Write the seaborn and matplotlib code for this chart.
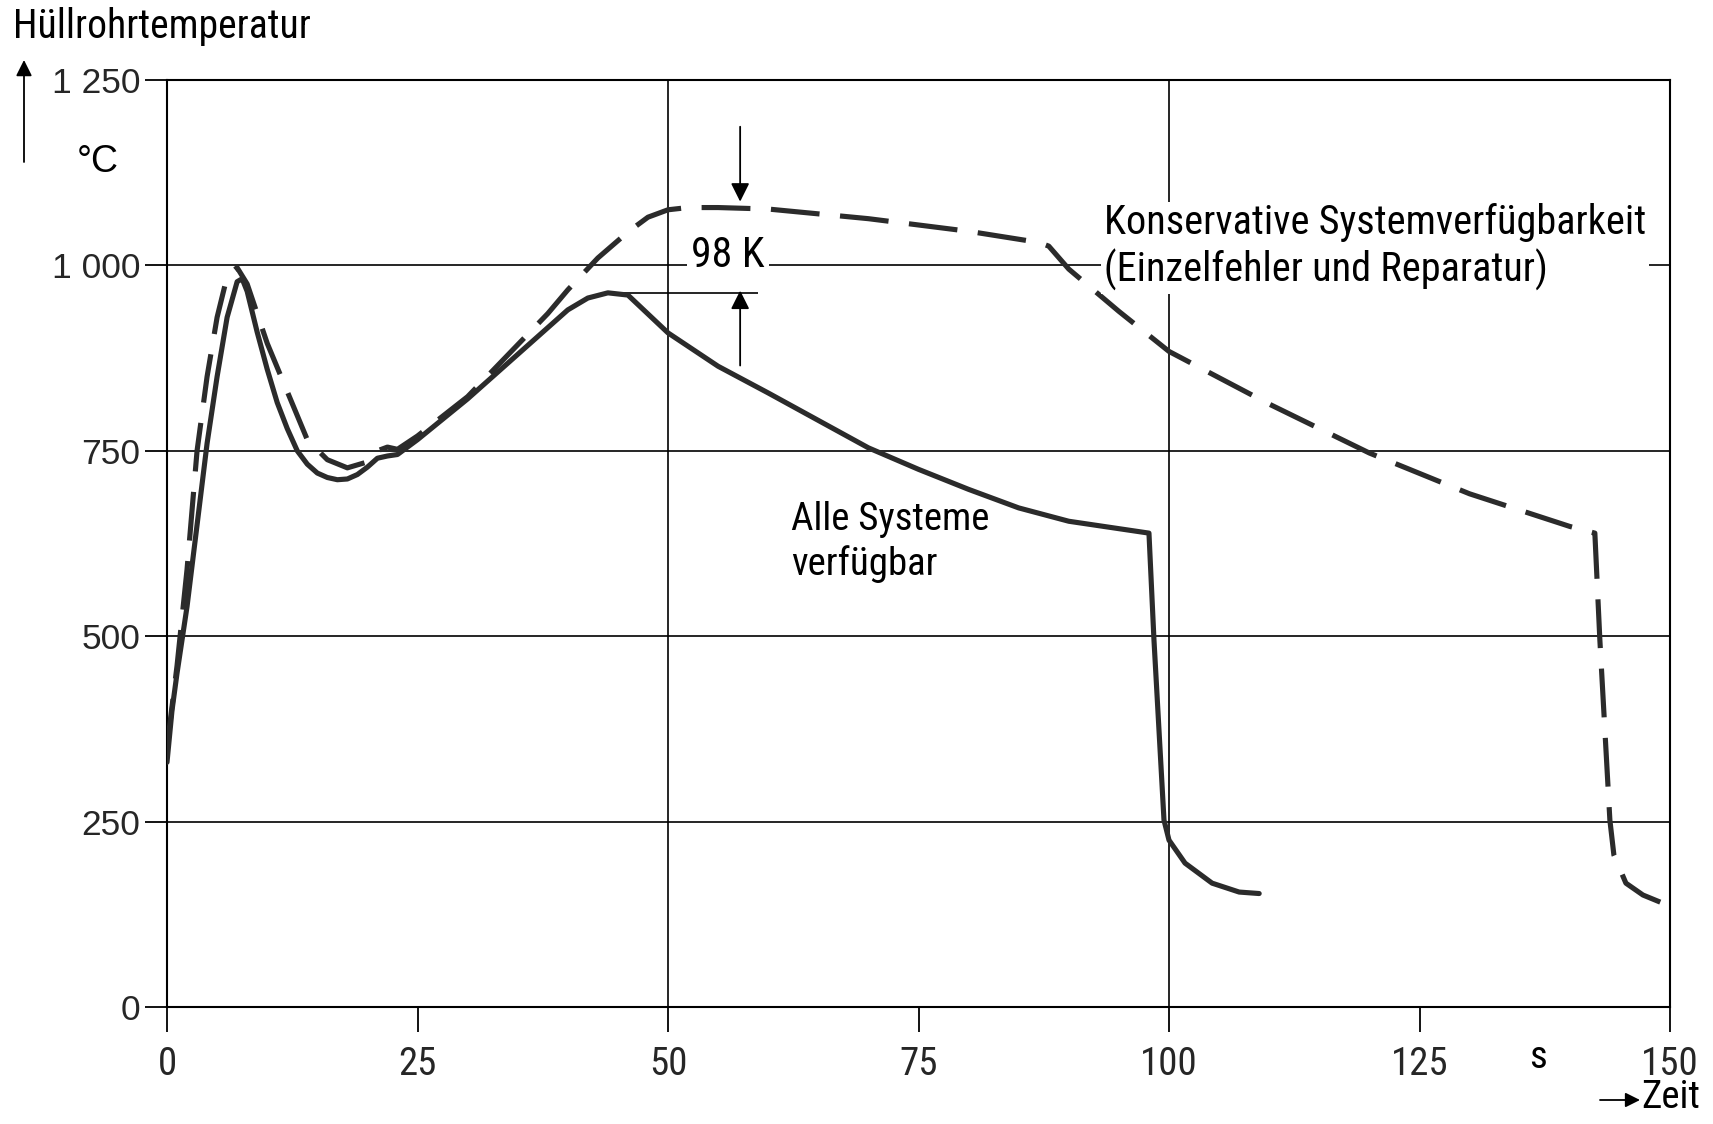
import matplotlib
matplotlib.use("Agg")
import matplotlib.pyplot as plt
import matplotlib.font_manager as fm
import seaborn as sns
import pandas as pd

# ---------------- data ----------------
t_solid = [0, 0.5, 1, 2, 3, 4, 5, 6, 7, 7.5, 8, 9, 10, 11, 12, 13, 14, 15, 16, 17, 18,
           19, 20, 21, 22, 23, 25, 30, 35, 40, 42, 44, 46, 50, 55, 60, 65, 70, 75, 80,
           85, 90, 98, 98.5, 99.5, 100, 101.6, 104.3, 107, 109]
T_solid = [330, 400, 450, 540, 650, 760, 850, 930, 978, 982, 965, 910, 860, 815, 780, 750,
           732, 720, 714, 711, 712, 718, 728, 740, 743, 745, 765, 820, 880, 940, 956, 963,
           960, 909, 864, 828, 791, 754, 725, 698, 673, 655, 639, 495, 252, 225, 194, 167,
           155, 153]

t_dash = [0, 1, 2, 3, 4, 5, 6, 7, 8, 9, 10, 12, 14, 16, 18, 20, 21, 22, 23, 25, 30, 35,
          38, 40, 43, 46, 48, 50, 52, 55, 60, 70, 80, 87, 88, 90, 95, 100, 110, 120, 130,
          140, 142.5, 143, 144, 144.4, 145.6, 147.3, 150]
T_dash = [350, 460, 590, 750, 850, 930, 985, 997, 975, 935, 895, 830, 765, 738, 727, 735,
          750, 755, 752, 770, 823, 893, 935, 967, 1010, 1045, 1065, 1075, 1078, 1078, 1076,
          1063, 1046, 1031, 1026, 995, 938, 884, 813, 747, 692, 648, 639, 495, 252, 205,
          167, 151, 136]

x_ticks = [0, 25, 50, 75, 100, 125, 150]
x_labels = ["0", "25", "50", "75", "100", "125", "150"]
y_ticks = [0, 250, 500, 750, 1000, 1250]
y_labels = ["0", "250", "500", "750", "1 000", "1 250"]

label_solid = "Alle Systeme\nverfügbar"
label_dash = "Konservative Systemverfügbarkeit\n(Einzelfehler und Reparatur)"
delta_label = "98 K"
peak_solid = 963
peak_dash = 1078

# ---------------- fonts ----------------
sns.set_theme(style="white")
avail = {f.name for f in fm.fontManager.ttflist}
narrow = "DejaVu Sans"
for cand in ["Liberation Sans Narrow", "Roboto Condensed", "DejaVu Sans Condensed"]:
    if cand in avail:
        narrow = cand
        break
plt.rcParams["font.family"] = [narrow, "DejaVu Sans"]
normal = ["Liberation Sans", "DejaVu Sans"]

ink = "#2b2b2b"

fig = plt.figure(figsize=(17.13, 11.24), dpi=100)
ax = fig.add_axes([167 / 1713, 1 - 1007 / 1124, (1670 - 167) / 1713, (1007 - 80) / 1124])

df_s = pd.DataFrame({"t": t_solid, "T": T_solid})
df_d = pd.DataFrame({"t": t_dash, "T": T_dash})

# grid lines (only at labelled major positions)
for yv in y_ticks[1:-1]:
    ax.axhline(yv, color="black", lw=1.2, zorder=1)
for xv in [50, 100]:
    ax.axvline(xv, color="black", lw=1.2, zorder=1)

sns.lineplot(data=df_s, x="t", y="T", ax=ax, color=ink, lw=3.7, estimator=None,
             sort=False, zorder=3)
sns.lineplot(data=df_d, x="t", y="T", ax=ax, color=ink, lw=3.7, estimator=None,
             sort=False, zorder=3)
dl = ax.lines[-1]
dl.set_linestyle((0, (9.5, 4.0)))
dl.set_dash_capstyle("butt")

ax.set_xlim(0, 150)
ax.set_ylim(0, 1250)
ax.set_xticks(x_ticks)
ax.set_xticklabels(x_labels)
ax.set_yticks(y_ticks)
ax.set_yticklabels(y_labels)
ax.set_xlabel("")
ax.set_ylabel("")
for s in ax.spines.values():
    s.set_color("black")
    s.set_linewidth(1.5)

ax.tick_params(axis="x", direction="out", length=18, width=1.3, color="black",
               labelsize=28, pad=10, bottom=True)
ax.tick_params(axis="y", direction="out", length=16, width=1.3, color="black",
               labelsize=25.5, pad=3, left=True)
for lab in ax.get_yticklabels():
    lab.set_family(normal)

# ---------------- annotations ----------------
ax.text(93.5, 1025, label_dash, fontsize=29, ha="left", va="center", color="black",
        linespacing=1.2, zorder=4,
        bbox=dict(facecolor="white", edgecolor="none", pad=2))
ax.text(62.3, 627, label_solid, fontsize=28, ha="left", va="center", color="black",
        linespacing=1.25, zorder=4)

ax.text(56.0, 1014, delta_label, fontsize=30, ha="center", va="center", color="black",
        zorder=4, bbox=dict(facecolor="white", edgecolor="none", pad=3))
ax.hlines(peak_solid, 45.5, 59, color="black", lw=1.2, zorder=2)
ax.annotate("", xy=(57.2, peak_dash + 8), xytext=(57.2, 1187),
            arrowprops=dict(arrowstyle="-|>", color="black", lw=1.3,
                            mutation_scale=28, shrinkA=0, shrinkB=0), zorder=4)
ax.annotate("", xy=(57.2, peak_solid + 3), xytext=(57.2, 865),
            arrowprops=dict(arrowstyle="-|>", color="black", lw=1.3,
                            mutation_scale=28, shrinkA=0, shrinkB=0), zorder=4)

# axis titles
fig.text(13 / 1713, 1 - 27 / 1124, "Hüllrohrtemperatur", fontsize=28.5, ha="left",
         va="center", color="black")
fig.text(98 / 1713, 1 - 162 / 1124, "°C", fontsize=27, ha="center", va="center",
         color="black", family=normal)
fig.add_artist(matplotlib.patches.FancyArrowPatch(
    (24 / 1713, 1 - 162 / 1124), (24 / 1713, 1 - 60 / 1124),
    transform=fig.transFigure, arrowstyle="-|>", mutation_scale=24, color="black",
    lw=1.3, shrinkA=0, shrinkB=0))

fig.text(1538 / 1713, 1 - 1057 / 1124, "s", fontsize=28, ha="center", va="center",
         color="black")
fig.text(1700 / 1713, 1 - 1098 / 1124, "Zeit", fontsize=28, ha="right", va="center",
         color="black")
fig.add_artist(matplotlib.patches.FancyArrowPatch(
    (1600 / 1713, 1 - 1100 / 1124), (1640 / 1713, 1 - 1100 / 1124),
    transform=fig.transFigure, arrowstyle="-|>", mutation_scale=22, color="black",
    lw=1.3, shrinkA=0, shrinkB=0))

fig.savefig("out.png", dpi=100, facecolor="white")
